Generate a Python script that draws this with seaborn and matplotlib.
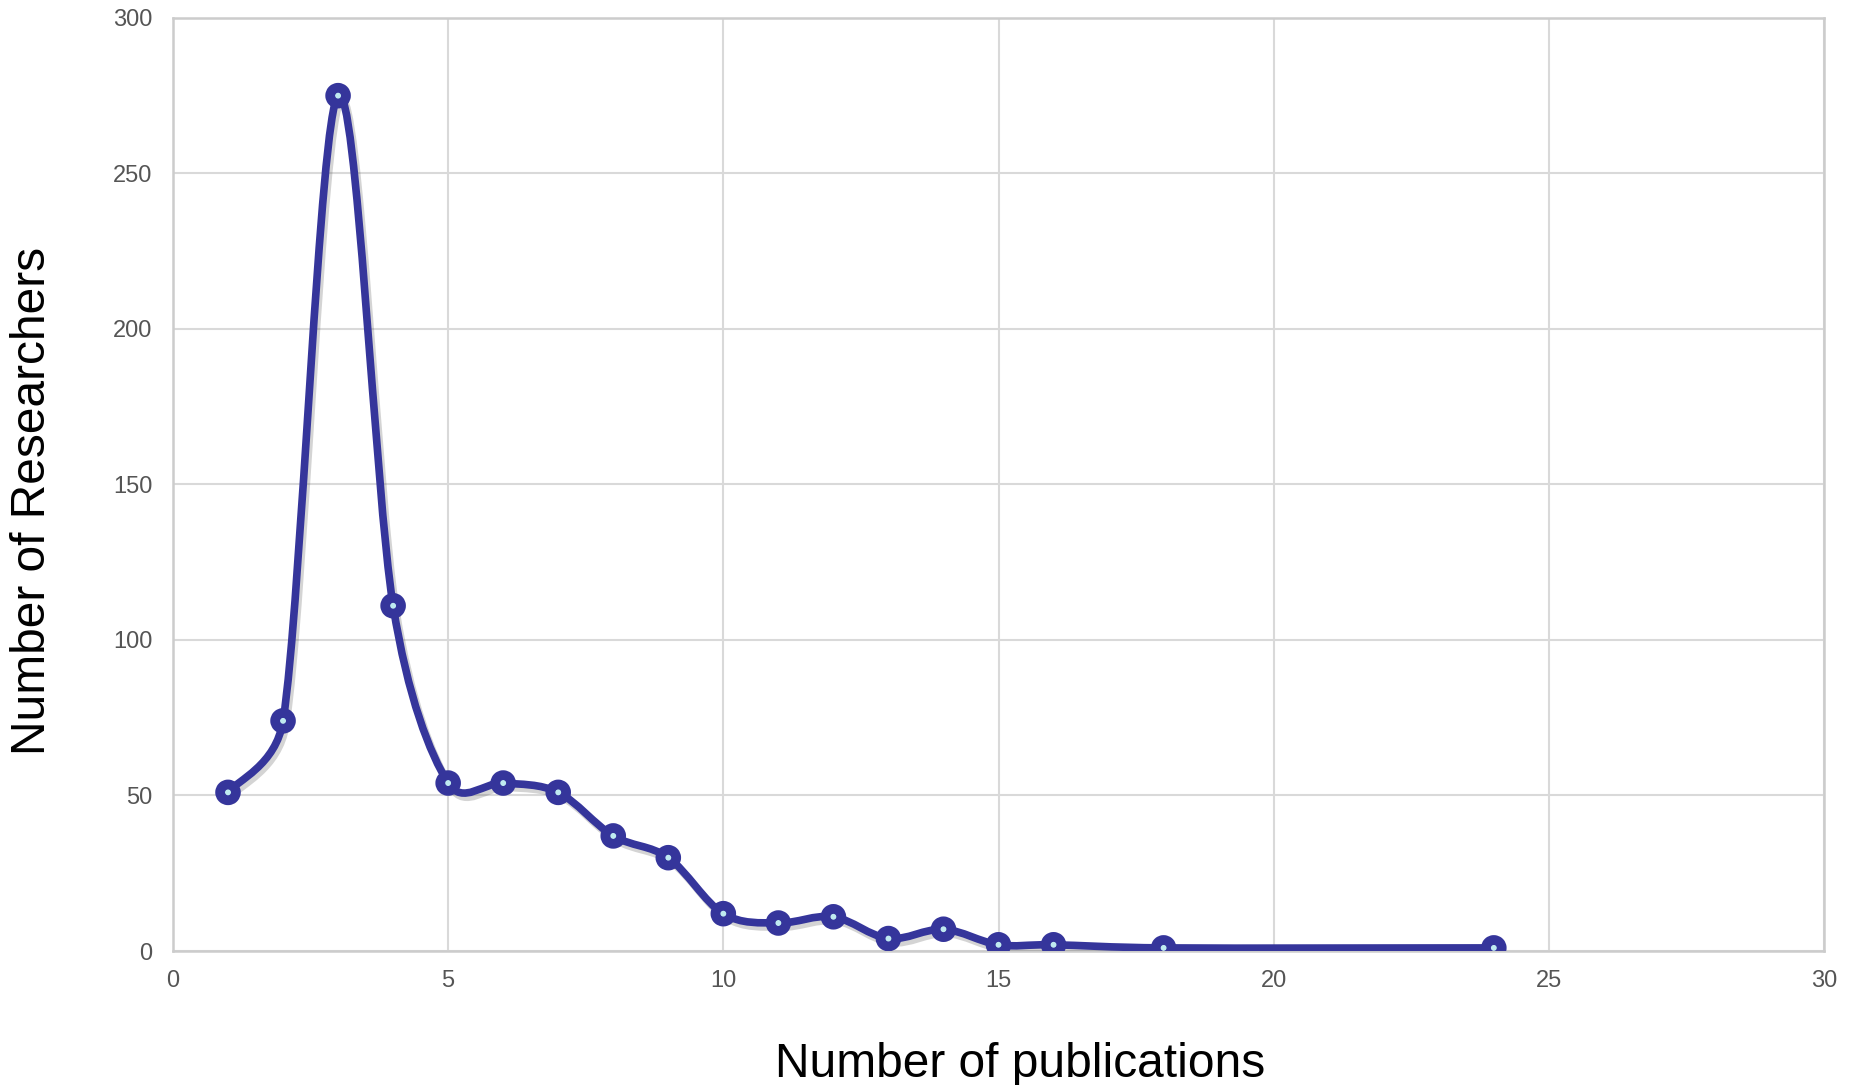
#!/usr/bin/env python3
"""
Distribution of researchers by number of publications, smoothed line chart.
"""
import matplotlib
matplotlib.use('Agg')
import matplotlib.pyplot as plt
import matplotlib.patheffects as pe
from matplotlib.path import Path
from matplotlib.patches import PathPatch
import numpy as np
import pandas as pd
import seaborn as sns

PUBLICATIONS = [1, 2, 3, 4, 5, 6, 7, 8, 9, 10, 11, 12, 13, 14, 15, 16, 18, 24]
RESEARCHERS = [51, 74, 275, 111, 54, 54, 51, 37, 30, 12, 9, 11, 4, 7, 2, 2, 1, 1]
X_TICKS = [0, 5, 10, 15, 20, 25, 30]
Y_TICKS = [0, 50, 100, 150, 200, 250, 300]

LINE_COLOR = '#35359b'
DOT_COLOR = '#bfeaf0'
GRID_COLOR = '#d9d9d9'


def smooth_path(ax, xs, ys):
    """Spreadsheet-style smoothed line: 1/6 Catmull-Rom tangents in screen
    space, each control arm capped at half its segment length."""
    pts = ax.transData.transform(np.column_stack([xs, ys]).astype(float))
    n = len(pts)

    def arm(i, j):
        # control arm at point i pointing towards neighbour j
        prev_pt = pts[i - 1] if i > 0 else pts[i]
        next_pt = pts[i + 1] if i + 1 < n else pts[i]
        tangent = (next_pt - prev_pt) / 6.0
        if j < i:
            tangent = -tangent
        seg = np.hypot(*(pts[j] - pts[i]))
        length = np.hypot(*tangent)
        if length > seg / 2 and length > 0:
            tangent = tangent * (seg / 2) / length
        return pts[i] + tangent

    verts = [pts[0]]
    codes = [Path.MOVETO]
    for i in range(n - 1):
        verts += [arm(i, i + 1), arm(i + 1, i), pts[i + 1]]
        codes += [Path.CURVE4] * 3
    verts = ax.transData.inverted().transform(np.array(verts))
    return Path(verts, codes)


data = pd.DataFrame({'pubs': PUBLICATIONS, 'researchers': RESEARCHERS})

sns.set_style('white')
plt.rcParams['font.family'] = ['Liberation Sans', 'DejaVu Sans']

fig = plt.figure(figsize=(18.52, 10.85), dpi=100)
ax = fig.add_axes([0.0934, 0.1235, 0.8915, 0.86])

ax.set_xlim(0, 30)
ax.set_ylim(0, 300)
ax.set_xticks(X_TICKS)
ax.set_yticks(Y_TICKS)

# smoothed line with a soft drop shadow
curve = PathPatch(smooth_path(ax, data['pubs'], data['researchers']), fill=False,
                  edgecolor=LINE_COLOR, linewidth=5.5, capstyle='round',
                  joinstyle='round', zorder=3)
curve.set_path_effects([pe.SimpleLineShadow(offset=(2, -3), alpha=0.25,
                                            shadow_color='#555555'),
                        pe.Normal()])
ax.add_patch(curve)

sns.scatterplot(x='pubs', y='researchers', data=data, ax=ax, marker='o',
                s=130, color=DOT_COLOR, edgecolor=LINE_COLOR, linewidth=7,
                zorder=4)
ax.collections[-1].set_path_effects([pe.SimplePatchShadow(offset=(2, -3),
                                                          alpha=0.25,
                                                          shadow_rgbFace='#555555'),
                                     pe.Normal()])

ax.grid(True, color=GRID_COLOR, linewidth=1.5)
ax.set_axisbelow(True)
for side in ax.spines.values():
    side.set_color('#cccccc')
    side.set_linewidth(1.8)
ax.tick_params(axis='both', length=0, labelsize=17, labelcolor='#555555')
ax.tick_params(axis='x', pad=14)
ax.tick_params(axis='y', pad=15)

ax.set_xlabel('Number of publications', fontsize=34.5, color='black')
ax.set_ylabel('Number of Researchers', fontsize=34.5, color='black')
ax.xaxis.set_label_coords(0.513, -0.122)
ax.xaxis.label.set_va('center')
ax.yaxis.set_label_coords(-0.085, 0.482)
ax.yaxis.label.set_va('center')

fig.savefig('out.png', dpi=100)
